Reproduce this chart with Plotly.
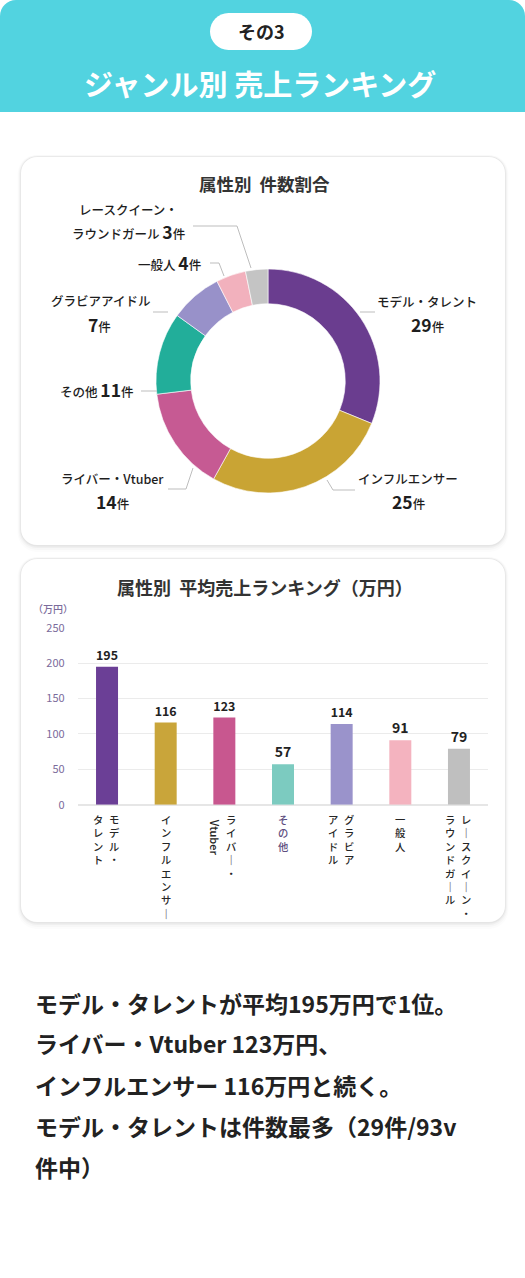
import plotly.graph_objects as go

W, H = 525, 1278

# ---- data ----
genres = ["モデル・タレント", "インフルエンサー", "ライバー・Vtuber", "その他",
          "グラビアアイドル", "一般人", "レースクイーン・ラウンドガール"]
counts = [29, 25, 14, 11, 7, 4, 3]
donut_colors = ["#6A3D8F", "#C9A434", "#C65A93", "#22AE9A", "#9891C9", "#F2B1BD", "#C4C4C4"]

avg_sales = [195, 116, 123, 57, 114, 91, 79]
bar_colors = ["#6B3F96", "#C9A53A", "#C8578F", "#7CCBC0", "#9A93CB", "#F4B3BF", "#BFBFBF"]
y_ticks = [0, 50, 100, 150, 200, 250]

# tick labels written vertically, right column first
tick_columns = [["モデル・", "タレント"], ["インフルエンサー"], ["ライバー・", "Vtuber"], ["その他"],
                ["グラビア", "アイドル"], ["一般人"], ["レースクイーン・", "ラウンドガール"]]

summary_lines = ["モデル・タレントが平均195万円で1位。",
                 "ライバー・Vtuber 123万円、",
                 "インフルエンサー 116万円と続く。",
                 "モデル・タレントは件数最多（29件/93v",
                 "件中）"]

FONT = "Noto Sans CJK JP"


def px(x):
    return x / W


def py(y):
    return 1 - y / H


def rr_path(x0, y0, x1, y1, r, bottom_round=True):
    k = 0.4477 * r
    pts = [f"M{px(x0 + r)},{py(y0)}", f"L{px(x1 - r)},{py(y0)}",
           f"C{px(x1 - k)},{py(y0)} {px(x1)},{py(y0 + k)} {px(x1)},{py(y0 + r)}"]
    if bottom_round:
        pts += [f"L{px(x1)},{py(y1 - r)}",
                f"C{px(x1)},{py(y1 - k)} {px(x1 - k)},{py(y1)} {px(x1 - r)},{py(y1)}",
                f"L{px(x0 + r)},{py(y1)}",
                f"C{px(x0 + k)},{py(y1)} {px(x0)},{py(y1 - k)} {px(x0)},{py(y1 - r)}"]
    else:
        pts += [f"L{px(x1)},{py(y1)}", f"L{px(x0)},{py(y1)}"]
    pts += [f"L{px(x0)},{py(y0 + r)}",
            f"C{px(x0)},{py(y0 + k)} {px(x0 + k)},{py(y0)} {px(x0 + r)},{py(y0)}", "Z"]
    return " ".join(pts)


shapes = []
annotations = []


def add_card(x0, y0, x1, y1):
    for d, a in [(7, 0.012), (5, 0.02), (3, 0.03), (1.5, 0.04)]:
        shapes.append(dict(type="path", xref="paper", yref="paper", layer="below",
                           path=rr_path(x0 - d / 2, y0 - d / 3, x1 + d / 2, y1 + d, 16 + d / 2),
                           fillcolor=f"rgba(0,0,0,{a})", line=dict(width=0)))
    shapes.append(dict(type="path", xref="paper", yref="paper", layer="below",
                       path=rr_path(x0, y0, x1, y1, 16),
                       fillcolor="white", line=dict(width=0)))


def text(x, y, s, size, color="#1E1E1E", xanchor="center", bold=False, **kw):
    annotations.append(dict(x=px(x), y=py(y), xref="paper", yref="paper", text=s,
                            showarrow=False, xanchor=xanchor, yanchor="middle",
                            font=dict(family=FONT, size=size, color=color,
                                      weight="bold" if bold else 500), **kw))


def leader(points):
    path = "M" + " L".join(f"{px(x)},{py(y)}" for x, y in points)
    shapes.append(dict(type="path", xref="paper", yref="paper", path=path,
                       line=dict(color="#BDBDBD", width=1)))


# header
shapes.append(dict(type="path", xref="paper", yref="paper", layer="below",
                   path=rr_path(0, 0, W, 112, 16, bottom_round=False),
                   fillcolor="#52D3E0", line=dict(width=0)))
shapes.append(dict(type="path", xref="paper", yref="paper", layer="below",
                   path=rr_path(210, 13, 312, 50, 18.5), fillcolor="white", line=dict(width=0)))
text(261, 31.5, "その3", 18, "#222222", bold=True)
text(260, 83, "ジャンル別 売上ランキング", 29, "white", bold=True)

# cards
add_card(21, 157, 505, 545)
add_card(21, 559, 505, 922)
text(264, 184, "属性別  件数割合", 17.5, "#333333", bold=True)
text(265, 587, "属性別  平均売上ランキング（万円）", 18, "#333333", bold=True)


# donut labels
def cnt(n):
    return f"<span style='font-size:17.5px'><b>{n}</b></span>件"


text(427, 302, "モデル・タレント", 12.5)
text(427, 324, cnt(counts[0]), 12.5)
leader([(360, 312), (375, 312)])
text(408, 479, "インフルエンサー", 12.5)
text(408, 501, cnt(counts[1]), 12.5)
leader([(327, 480), (333, 490), (355, 490)])
text(112, 479, "ライバー・Vtuber", 12.5)
text(112, 501, cnt(counts[2]), 12.5)
leader([(193, 468), (186, 489), (168, 489)])
text(136, 390, "その他 " + cnt(counts[3]), 12.5, xanchor="right")
leader([(141, 391), (157, 391)])
text(100, 301, "グラビアアイドル", 12.5)
text(99, 324, cnt(counts[4]), 12.5)
leader([(153, 312), (168, 312)])
text(203, 263, "一般人 " + cnt(counts[5]), 12.5, xanchor="right")
leader([(210, 263), (219, 263), (224, 276)])
text(128, 209, "レースクイーン・", 12.5)
text(187, 231, "ラウンドガール " + cnt(counts[6]), 12.5, xanchor="right")
leader([(193, 226), (237, 226), (251, 268)])

# donut
cx, cy, r = 268, 381, 112
fig = go.Figure()
fig.add_trace(go.Pie(labels=genres, values=counts, hole=0.69, sort=False,
                     direction="clockwise", rotation=0, textinfo="none",
                     marker=dict(colors=donut_colors, line=dict(color="white", width=0.6)),
                     domain=dict(x=[px(cx - r), px(cx + r)], y=[py(cy + r), py(cy - r)]),
                     showlegend=False))

# bars
fig.add_trace(go.Bar(x=genres, y=avg_sales, marker=dict(color=bar_colors, line=dict(width=0)),
                     width=0.375, text=avg_sales, textposition="outside", cliponaxis=False,
                     textfont=dict(family=FONT, size=14, color="#222222", weight="bold"),
                     showlegend=False))

y_bottom, y_top = 804.7, 627.7
text(53, 608, "（万円）", 10, "#7B6B9B")

# vertical tick labels (one char per line)
for g, cols in zip(genres, tick_columns):
    offsets = [0] if len(cols) == 1 else [7, -9]
    color = "#5E4E80" if g == "その他" else "#262626"
    for col, dx in zip(cols, offsets):
        if col.isascii():
            annotations.append(dict(x=g, y=py(837), xref="x", yref="paper", text=col,
                                    textangle=90, showarrow=False, xshift=dx,
                                    xanchor="center", yanchor="middle",
                                    font=dict(family=FONT, size=11, color=color, weight=500)))
            continue
        chars = ["｜" if ch == "ー" else ch for ch in col]
        annotations.append(dict(x=g, y=py(811), xref="x", yref="paper", text="<br>".join(chars),
                                showarrow=False, xshift=dx, xanchor="center", yanchor="top",
                                borderpad=0,
                                font=dict(family=FONT, size=10.3, color=color, weight=500)))

# summary text
for line, yy in zip(summary_lines, [1003, 1043, 1085, 1126, 1167]):
    text(33, yy, f"<b>{line}</b>", 23, "#222222", xanchor="left")

fig.update_layout(
    width=W, height=H, margin=dict(l=0, r=0, t=0, b=0, pad=0, autoexpand=False),
    paper_bgcolor="white", plot_bgcolor="rgba(0,0,0,0)",
    font=dict(family=FONT),
    xaxis=dict(domain=[px(77.7), px(488.3)], showticklabels=False, showgrid=False,
               zeroline=False, showline=False, ticks="", automargin=False),
    yaxis=dict(domain=[py(y_bottom), py(y_top)], range=[0, 250], tickvals=y_ticks,
               gridcolor="#EBEBEB", gridwidth=1, zeroline=True, zerolinecolor="#E6E6E6",
               showline=False, ticks="", ticklabelstandoff=12, automargin=False,
               tickfont=dict(family=FONT, size=11, color="#7B6B9B")),
    shapes=shapes, annotations=annotations,
)

fig.write_html("out.html", config={"displayModeBar": False},
               post_script="document.documentElement.style.margin='0';"
                           "document.body.style.margin='0';document.body.style.padding='0';"
                           "document.body.style.overflow='hidden';")
